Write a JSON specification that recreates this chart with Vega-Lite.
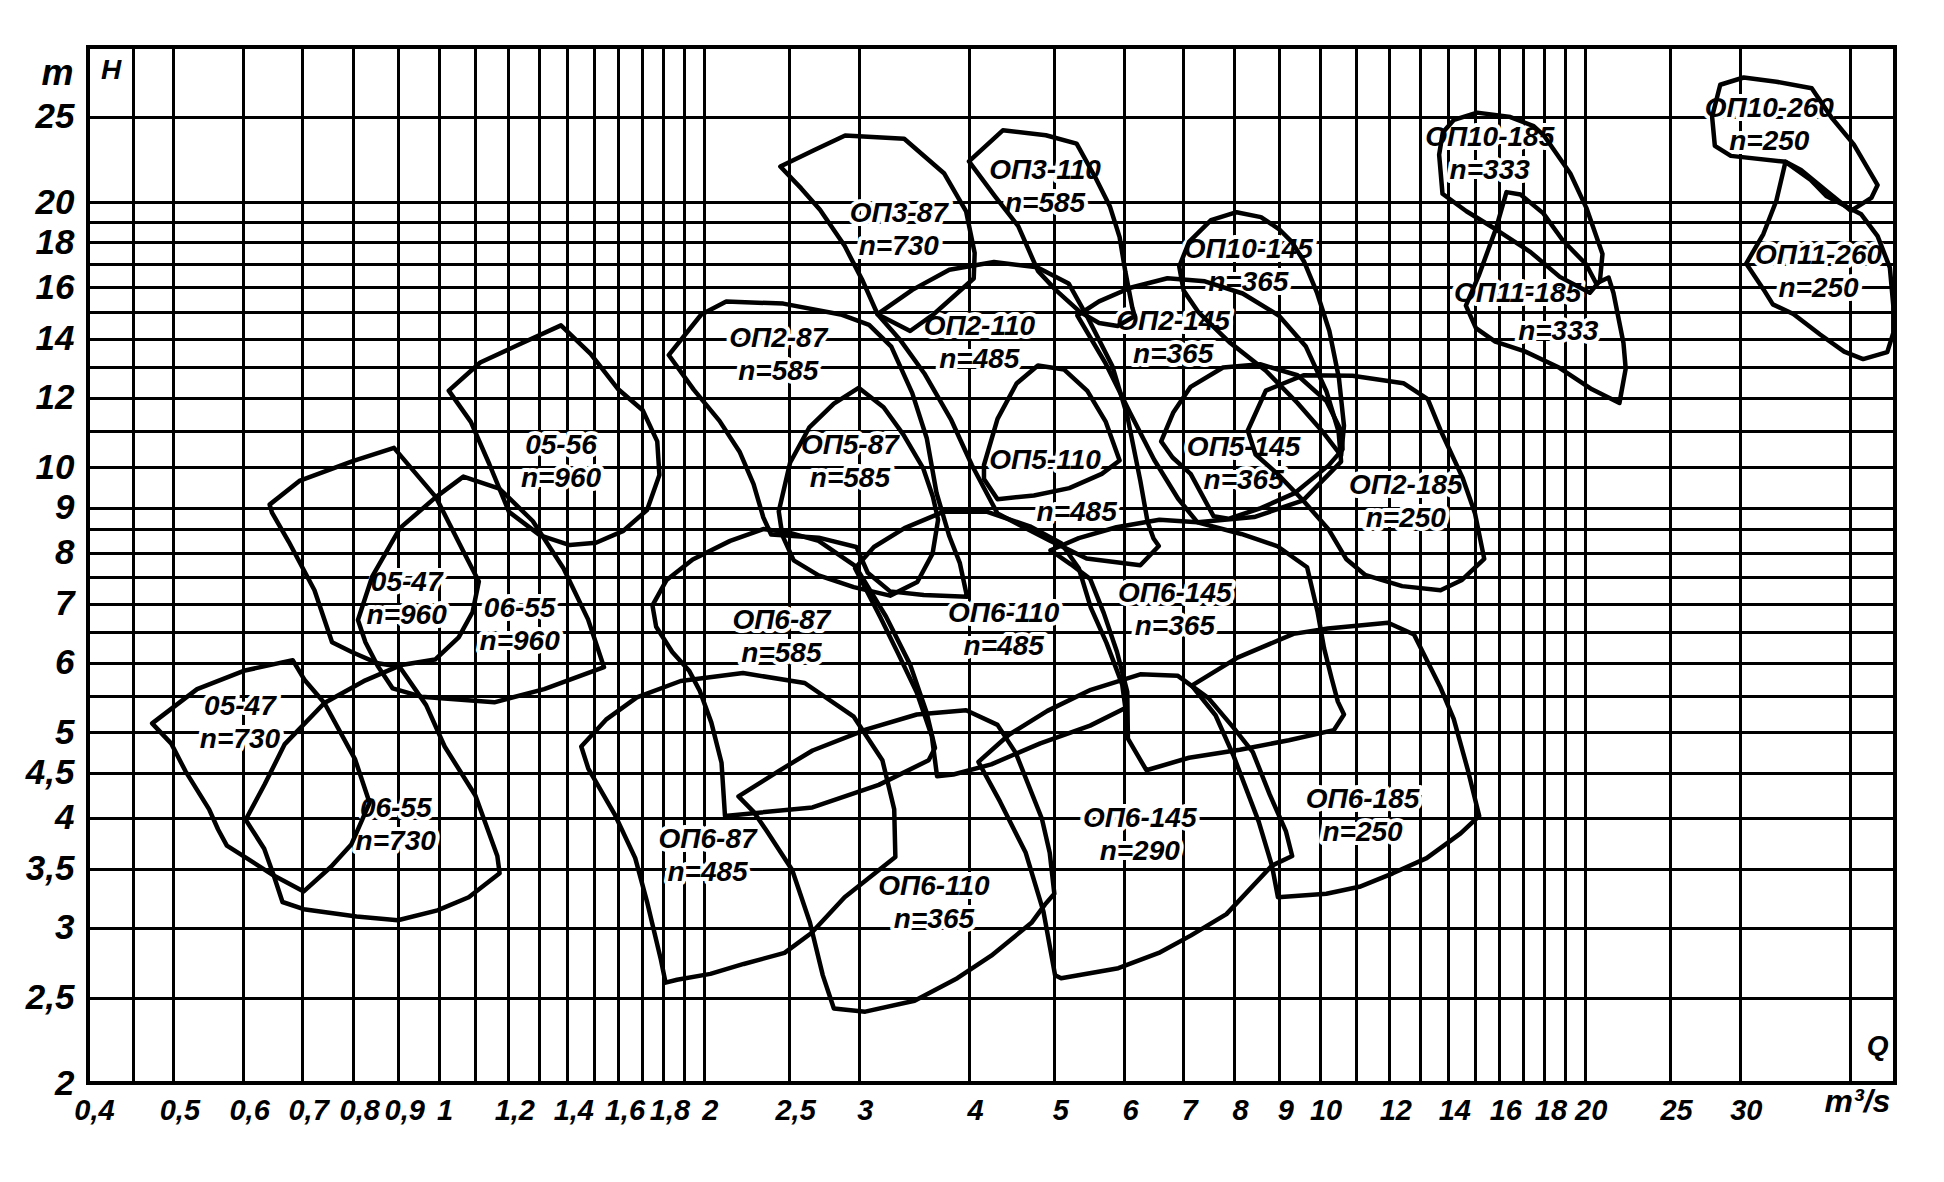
{
  "$schema": "https://vega.github.io/schema/vega-lite/v6.json",
  "width": 1807,
  "height": 1036,
  "autosize": {"type": "none"},
  "padding": {"left": 88, "top": 47, "right": 49, "bottom": 99},
  "background": "white",
  "config": {"view": {"stroke": "black", "strokeWidth": 4}},
  "datasets": {
    "regions": [
      {"r":"a","q":0.473,"h":5.12},{"r":"a","q":0.532,"h":5.60},{"r":"a","q":0.603,"h":5.88},{"r":"a","q":0.683,"h":6.04},{"r":"a","q":0.705,"h":5.73},{"r":"a","q":0.742,"h":5.40},{"r":"a","q":0.804,"h":4.66},{"r":"a","q":0.835,"h":4.16},{"r":"a","q":0.796,"h":3.73},{"r":"a","q":0.755,"h":3.52},{"r":"a","q":0.703,"h":3.30},{"r":"a","q":0.650,"h":3.44},{"r":"a","q":0.608,"h":3.59},{"r":"a","q":0.575,"h":3.72},{"r":"a","q":0.562,"h":3.88},{"r":"a","q":0.549,"h":4.09},{"r":"a","q":0.516,"h":4.52},{"r":"a","q":0.497,"h":4.86},
      {"r":"b","q":0.604,"h":3.98},{"r":"b","q":0.635,"h":4.37},{"r":"b","q":0.669,"h":4.85},{"r":"b","q":0.742,"h":5.40},{"r":"b","q":0.826,"h":5.73},{"r":"b","q":0.902,"h":5.95},{"r":"b","q":0.968,"h":5.37},{"r":"b","q":1.016,"h":4.82},{"r":"b","q":1.101,"h":4.24},{"r":"b","q":1.166,"h":3.62},{"r":"b","q":1.173,"h":3.46},{"r":"b","q":1.082,"h":3.25},{"r":"b","q":0.997,"h":3.14},{"r":"b","q":0.899,"h":3.06},{"r":"b","q":0.807,"h":3.09},{"r":"b","q":0.703,"h":3.15},{"r":"b","q":0.665,"h":3.21},{"r":"b","q":0.650,"h":3.44},{"r":"b","q":0.634,"h":3.69},
      {"r":"c","q":0.643,"h":9.07},{"r":"c","q":0.695,"h":9.65},{"r":"c","q":0.799,"h":10.16},{"r":"c","q":0.890,"h":10.52},{"r":"c","q":0.993,"h":9.25},{"r":"c","q":1.066,"h":8.04},{"r":"c","q":1.111,"h":7.42},{"r":"c","q":1.093,"h":6.85},{"r":"c","q":1.054,"h":6.41},{"r":"c","q":0.991,"h":6.05},{"r":"c","q":0.893,"h":5.95},{"r":"c","q":0.853,"h":5.99},{"r":"c","q":0.797,"h":6.17},{"r":"c","q":0.757,"h":6.33},{"r":"c","q":0.723,"h":7.25},{"r":"c","q":0.676,"h":8.23},{"r":"c","q":0.647,"h":8.88},
      {"r":"d","q":0.993,"h":9.25},{"r":"d","q":1.067,"h":9.76},{"r":"d","q":1.172,"h":9.46},{"r":"d","q":1.279,"h":8.69},{"r":"d","q":1.386,"h":7.68},{"r":"d","q":1.478,"h":6.72},{"r":"d","q":1.541,"h":5.93},{"r":"d","q":1.318,"h":5.60},{"r":"d","q":1.157,"h":5.41},{"r":"d","q":0.956,"h":5.49},{"r":"d","q":0.887,"h":5.61},{"r":"d","q":0.853,"h":5.95},{"r":"d","q":0.826,"h":6.33},{"r":"d","q":0.810,"h":6.71},{"r":"d","q":0.841,"h":7.52},{"r":"d","q":0.904,"h":8.53},
      {"r":"e","q":1.027,"h":12.22},{"r":"e","q":1.115,"h":13.15},{"r":"e","q":1.241,"h":13.82},{"r":"e","q":1.377,"h":14.49},{"r":"e","q":1.488,"h":13.45},{"r":"e","q":1.597,"h":12.28},{"r":"e","q":1.705,"h":11.61},{"r":"e","q":1.771,"h":10.70},{"r":"e","q":1.781,"h":9.80},{"r":"e","q":1.724,"h":8.94},{"r":"e","q":1.621,"h":8.47},{"r":"e","q":1.509,"h":8.21},{"r":"e","q":1.409,"h":8.16},{"r":"e","q":1.304,"h":8.37},{"r":"e","q":1.202,"h":8.90},{"r":"e","q":1.142,"h":10.08},{"r":"e","q":1.088,"h":11.26},
      {"r":"f","q":1.825,"h":13.41},{"r":"f","q":1.987,"h":14.91},{"r":"f","q":2.121,"h":15.42},{"r":"f","q":2.462,"h":15.34},{"r":"f","q":2.86,"h":14.91},{"r":"f","q":3.081,"h":14.51},{"r":"f","q":3.265,"h":13.71},{"r":"f","q":3.449,"h":12.14},{"r":"f","q":3.583,"h":10.78},{"r":"f","q":3.675,"h":9.35},{"r":"f","q":3.80,"h":8.35},{"r":"f","q":3.905,"h":7.79},{"r":"f","q":3.98,"h":7.13},{"r":"f","q":3.554,"h":7.16},{"r":"f","q":3.255,"h":7.23},{"r":"f","q":3.07,"h":7.59},{"r":"f","q":2.98,"h":8.12},{"r":"f","q":2.70,"h":8.32},{"r":"f","q":2.385,"h":8.39},{"r":"f","q":2.337,"h":8.77},{"r":"f","q":2.278,"h":9.57},{"r":"f","q":2.198,"h":10.40},{"r":"f","q":2.084,"h":11.29},{"r":"f","q":1.948,"h":12.25},
      {"r":"g","q":2.443,"h":21.95},{"r":"g","q":2.667,"h":22.91},{"r":"g","q":2.894,"h":23.8},{"r":"g","q":3.377,"h":23.6},{"r":"g","q":3.75,"h":21.55},{"r":"g","q":3.97,"h":19.52},{"r":"g","q":4.06,"h":17.51},{"r":"g","q":4.05,"h":16.38},{"r":"g","q":3.65,"h":14.93},{"r":"g","q":3.43,"h":14.28},{"r":"g","q":3.15,"h":14.92},{"r":"g","q":3.03,"h":16.28},{"r":"g","q":2.89,"h":17.84},{"r":"g","q":2.71,"h":19.6},{"r":"g","q":2.58,"h":20.73},
      {"r":"h","q":4.0,"h":22.25},{"r":"h","q":4.37,"h":24.13},{"r":"h","q":4.89,"h":23.82},{"r":"h","q":5.30,"h":23.3},{"r":"h","q":5.57,"h":21.3},{"r":"h","q":5.78,"h":19.79},{"r":"h","q":5.93,"h":18.25},{"r":"h","q":6.02,"h":16.67},{"r":"h","q":6.13,"h":15.18},{"r":"h","q":6.17,"h":14.85},{"r":"h","q":5.90,"h":14.47},{"r":"h","q":5.62,"h":14.58},{"r":"h","q":5.35,"h":15.0},{"r":"h","q":5.02,"h":15.89},{"r":"h","q":4.79,"h":16.71},{"r":"h","q":4.55,"h":18.78},{"r":"h","q":4.28,"h":20.32},
      {"r":"i","q":6.93,"h":16.9},{"r":"i","q":7.11,"h":18.03},{"r":"i","q":7.53,"h":19.08},{"r":"i","q":8.05,"h":19.48},{"r":"i","q":8.58,"h":19.23},{"r":"i","q":9.00,"h":18.63},{"r":"i","q":9.30,"h":18.03},{"r":"i","q":9.61,"h":17.1},{"r":"i","q":9.93,"h":15.8},{"r":"i","q":10.26,"h":14.28},{"r":"i","q":10.52,"h":12.62},{"r":"i","q":10.66,"h":11.15},{"r":"i","q":10.58,"h":10.31},{"r":"i","q":10.07,"h":10.99},{"r":"i","q":9.44,"h":11.83},{"r":"i","q":8.69,"h":12.87},{"r":"i","q":7.90,"h":13.87},{"r":"i","q":7.29,"h":14.99},{"r":"i","q":7.01,"h":15.87},
      {"r":"j","q":5.31,"h":14.87},{"r":"j","q":5.62,"h":15.43},{"r":"j","q":6.10,"h":15.99},{"r":"j","q":6.72,"h":16.39},{"r":"j","q":7.41,"h":16.26},{"r":"j","q":8.18,"h":15.75},{"r":"j","q":8.99,"h":14.87},{"r":"j","q":9.65,"h":13.71},{"r":"j","q":10.18,"h":12.2},{"r":"j","q":10.51,"h":10.98},{"r":"j","q":10.58,"h":10.15},{"r":"j","q":9.58,"h":9.17},{"r":"j","q":8.43,"h":8.78},{"r":"j","q":7.27,"h":8.66},{"r":"j","q":6.91,"h":9.21},{"r":"j","q":6.49,"h":10.2},{"r":"j","q":6.09,"h":11.55},{"r":"j","q":5.71,"h":13.15},
      {"r":"k","q":13.8,"h":23.99},{"r":"k","q":14.21,"h":24.8},{"r":"k","q":15.1,"h":25.27},{"r":"k","q":16.47,"h":24.98},{"r":"k","q":17.5,"h":24.4},{"r":"k","q":17.96,"h":23.83},{"r":"k","q":19.26,"h":21.55},{"r":"k","q":20.09,"h":19.69},{"r":"k","q":20.95,"h":17.46},{"r":"k","q":20.81,"h":16.28},{"r":"k","q":20.27,"h":15.78},{"r":"k","q":18.74,"h":16.45},{"r":"k","q":17.36,"h":17.55},{"r":"k","q":15.85,"h":18.63},{"r":"k","q":14.68,"h":19.53},{"r":"k","q":13.79,"h":20.44},{"r":"k","q":13.67,"h":22.64},
      {"r":"l","q":14.66,"h":15.26},{"r":"l","q":15.16,"h":16.5},{"r":"l","q":15.85,"h":18.63},{"r":"l","q":16.3,"h":20.53},{"r":"l","q":16.91,"h":20.4},{"r":"l","q":17.95,"h":19.42},{"r":"l","q":18.88,"h":18.1},{"r":"l","q":20.07,"h":17.0},{"r":"l","q":20.61,"h":16.17},{"r":"l","q":21.29,"h":16.42},{"r":"l","q":21.56,"h":15.77},{"r":"l","q":22.13,"h":13.84},{"r":"l","q":22.26,"h":12.94},{"r":"l","q":21.9,"h":11.83},{"r":"l","q":20.38,"h":12.26},{"r":"l","q":18.72,"h":12.97},{"r":"l","q":17.1,"h":13.54},{"r":"l","q":15.83,"h":13.89},{"r":"l","q":15.05,"h":14.39},
      {"r":"m","q":28.5,"h":27.18},{"r":"m","q":30.3,"h":27.7},{"r":"m","q":33.0,"h":27.4},{"r":"m","q":36.2,"h":26.93},{"r":"m","q":38.1,"h":24.97},{"r":"m","q":40.4,"h":23.26},{"r":"m","q":43.0,"h":20.91},{"r":"m","q":42.3,"h":20.22},{"r":"m","q":40.1,"h":19.55},{"r":"m","q":37.6,"h":20.6},{"r":"m","q":35.2,"h":21.75},{"r":"m","q":33.8,"h":22.22},{"r":"m","q":29.3,"h":22.57},{"r":"m","q":28.1,"h":23.17},{"r":"m","q":27.9,"h":25.0},
      {"r":"n","q":33.8,"h":22.22},{"r":"n","q":33.0,"h":20.07},{"r":"n","q":31.9,"h":18.4},{"r":"n","q":30.5,"h":17.03},{"r":"n","q":31.9,"h":15.93},{"r":"n","q":32.7,"h":15.31},{"r":"n","q":34.5,"h":14.93},{"r":"n","q":37.0,"h":14.15},{"r":"n","q":39.4,"h":13.53},{"r":"n","q":41.4,"h":13.27},{"r":"n","q":44.1,"h":13.51},{"r":"n","q":44.8,"h":14.21},{"r":"n","q":44.8,"h":15.26},{"r":"n","q":44.4,"h":16.85},{"r":"n","q":43.0,"h":18.3},{"r":"n","q":41.2,"h":19.37},{"r":"n","q":37.6,"h":20.32},{"r":"n","q":36.1,"h":21.2},
      {"r":"o","q":3.15,"h":14.92},{"r":"o","q":3.45,"h":15.9},{"r":"o","q":3.80,"h":16.76},{"r":"o","q":4.27,"h":17.1},{"r":"o","q":4.78,"h":16.87},{"r":"o","q":5.19,"h":16.17},{"r":"o","q":5.45,"h":14.82},{"r":"o","q":5.82,"h":13.02},{"r":"o","q":6.05,"h":11.44},{"r":"o","q":6.26,"h":9.65},{"r":"o","q":6.38,"h":8.67},{"r":"o","q":6.48,"h":8.30},{"r":"o","q":6.57,"h":8.14},{"r":"o","q":6.26,"h":7.74},{"r":"o","q":5.44,"h":7.88},{"r":"o","q":4.95,"h":8.25},{"r":"o","q":4.31,"h":8.86},{"r":"o","q":4.03,"h":10.06},{"r":"o","q":3.82,"h":11.31},{"r":"o","q":3.56,"h":12.78},{"r":"o","q":3.34,"h":13.96},
      {"r":"p","q":2.433,"h":8.91},{"r":"p","q":2.506,"h":10.12},{"r":"p","q":2.634,"h":11.09},{"r":"p","q":2.81,"h":11.81},{"r":"p","q":2.998,"h":12.31},{"r":"p","q":3.20,"h":11.70},{"r":"p","q":3.37,"h":10.89},{"r":"p","q":3.548,"h":9.98},{"r":"p","q":3.64,"h":9.26},{"r":"p","q":3.69,"h":8.72},{"r":"p","q":3.637,"h":7.98},{"r":"p","q":3.495,"h":7.41},{"r":"p","q":3.255,"h":7.15},{"r":"p","q":2.96,"h":7.31},{"r":"p","q":2.70,"h":7.54},{"r":"p","q":2.53,"h":7.84},{"r":"p","q":2.456,"h":8.37},
      {"r":"q","q":4.16,"h":10.06},{"r":"q","q":4.31,"h":11.35},{"r":"q","q":4.53,"h":12.45},{"r":"q","q":4.79,"h":13.05},{"r":"q","q":5.13,"h":12.91},{"r":"q","q":5.45,"h":12.21},{"r":"q","q":5.72,"h":11.26},{"r":"q","q":5.93,"h":10.18},{"r":"q","q":5.66,"h":9.83},{"r":"q","q":5.20,"h":9.47},{"r":"q","q":4.74,"h":9.29},{"r":"q","q":4.31,"h":9.20},{"r":"q","q":4.16,"h":9.70},
      {"r":"s","q":6.61,"h":10.7},{"r":"s","q":6.82,"h":11.53},{"r":"s","q":7.14,"h":12.34},{"r":"s","q":7.77,"h":12.98},{"r":"s","q":8.56,"h":13.09},{"r":"s","q":9.44,"h":12.72},{"r":"s","q":10.18,"h":11.89},{"r":"s","q":10.59,"h":10.98},{"r":"s","q":10.62,"h":10.48},{"r":"s","q":10.24,"h":10.05},{"r":"s","q":9.36,"h":9.34},{"r":"s","q":8.58,"h":8.99},{"r":"s","q":7.88,"h":8.74},{"r":"s","q":7.58,"h":8.8},{"r":"s","q":7.14,"h":9.83},{"r":"s","q":6.81,"h":10.26},
      {"r":"t","q":8.29,"h":11.01},{"r":"t","q":8.69,"h":12.22},{"r":"t","q":9.59,"h":12.72},{"r":"t","q":10.9,"h":12.7},{"r":"t","q":12.45,"h":12.46},{"r":"t","q":13.27,"h":11.95},{"r":"t","q":13.74,"h":10.98},{"r":"t","q":14.54,"h":9.72},{"r":"t","q":15.01,"h":8.87},{"r":"t","q":15.38,"h":7.87},{"r":"t","q":14.51,"h":7.45},{"r":"t","q":13.72,"h":7.25},{"r":"t","q":12.41,"h":7.33},{"r":"t","q":11.26,"h":7.55},{"r":"t","q":10.72,"h":7.87},{"r":"t","q":10.24,"h":8.5},{"r":"t","q":9.58,"h":9.17},{"r":"t","q":8.96,"h":9.83},{"r":"t","q":8.46,"h":10.34},
      {"r":"u","q":1.749,"h":6.97},{"r":"u","q":1.815,"h":7.45},{"r":"u","q":1.943,"h":7.86},{"r":"u","q":2.143,"h":8.25},{"r":"u","q":2.336,"h":8.51},{"r":"u","q":2.50,"h":8.43},{"r":"u","q":2.70,"h":8.25},{"r":"u","q":2.97,"h":7.73},{"r":"u","q":3.22,"h":6.77},{"r":"u","q":3.43,"h":5.97},{"r":"u","q":3.58,"h":5.27},{"r":"u","q":3.66,"h":4.8},{"r":"u","q":3.60,"h":4.65},{"r":"u","q":3.16,"h":4.36},{"r":"u","q":2.657,"h":4.11},{"r":"u","q":2.114,"h":4.02},{"r":"u","q":2.095,"h":4.62},{"r":"u","q":2.04,"h":5.13},{"r":"u","q":1.98,"h":5.57},{"r":"u","q":1.926,"h":5.87},{"r":"u","q":1.842,"h":6.17},{"r":"u","q":1.766,"h":6.59},
      {"r":"v","q":1.452,"h":4.82},{"r":"v","q":1.549,"h":5.17},{"r":"v","q":1.679,"h":5.48},{"r":"v","q":1.883,"h":5.72},{"r":"v","q":2.216,"h":5.84},{"r":"v","q":2.604,"h":5.69},{"r":"v","q":2.96,"h":5.21},{"r":"v","q":3.19,"h":4.65},{"r":"v","q":3.29,"h":4.09},{"r":"v","q":3.30,"h":3.61},{"r":"v","q":2.89,"h":3.25},{"r":"v","q":2.65,"h":2.96},{"r":"v","q":2.47,"h":2.81},{"r":"v","q":2.22,"h":2.73},{"r":"v","q":2.035,"h":2.66},{"r":"v","q":1.865,"h":2.62},{"r":"v","q":1.81,"h":2.60},{"r":"v","q":1.788,"h":2.76},{"r":"v","q":1.726,"h":3.2},{"r":"v","q":1.672,"h":3.6},{"r":"v","q":1.584,"h":4.04},{"r":"v","q":1.479,"h":4.55},
      {"r":"w","q":2.97,"h":7.68},{"r":"w","q":3.12,"h":8.12},{"r":"w","q":3.38,"h":8.53},{"r":"w","q":3.74,"h":8.9},{"r":"w","q":4.18,"h":8.91},{"r":"w","q":4.69,"h":8.57},{"r":"w","q":5.09,"h":8.2},{"r":"w","q":5.33,"h":7.68},{"r":"w","q":5.50,"h":6.93},{"r":"w","q":5.73,"h":6.32},{"r":"w","q":5.97,"h":5.67},{"r":"w","q":6.02,"h":5.33},{"r":"w","q":5.49,"h":5.09},{"r":"w","q":4.82,"h":4.86},{"r":"w","q":4.24,"h":4.6},{"r":"w","q":3.84,"h":4.48},{"r":"w","q":3.68,"h":4.46},{"r":"w","q":3.63,"h":4.95},{"r":"w","q":3.49,"h":5.55},{"r":"w","q":3.32,"h":6.16},{"r":"w","q":3.17,"h":6.77},
      {"r":"x","q":2.19,"h":4.23},{"r":"x","q":2.432,"h":4.52},{"r":"x","q":2.658,"h":4.77},{"r":"x","q":3.06,"h":5.04},{"r":"x","q":3.49,"h":5.24},{"r":"x","q":3.97,"h":5.3},{"r":"x","q":4.31,"h":5.1},{"r":"x","q":4.52,"h":4.74},{"r":"x","q":4.84,"h":3.99},{"r":"x","q":4.94,"h":3.65},{"r":"x","q":5.0,"h":3.28},{"r":"x","q":4.88,"h":3.19},{"r":"x","q":4.71,"h":3.04},{"r":"x","q":4.24,"h":2.79},{"r":"x","q":3.88,"h":2.63},{"r":"x","q":3.47,"h":2.48},{"r":"x","q":3.05,"h":2.41},{"r":"x","q":2.81,"h":2.43},{"r":"x","q":2.73,"h":2.65},{"r":"x","q":2.64,"h":3.04},{"r":"x","q":2.52,"h":3.49},{"r":"x","q":2.36,"h":3.86},{"r":"x","q":2.28,"h":4.06},
      {"r":"y","q":4.95,"h":8.05},{"r":"y","q":5.33,"h":8.31},{"r":"y","q":5.88,"h":8.55},{"r":"y","q":6.58,"h":8.72},{"r":"y","q":7.27,"h":8.66},{"r":"y","q":8.15,"h":8.4},{"r":"y","q":8.95,"h":8.14},{"r":"y","q":9.68,"h":7.7},{"r":"y","q":9.95,"h":6.85},{"r":"y","q":10.12,"h":6.23},{"r":"y","q":10.32,"h":5.76},{"r":"y","q":10.49,"h":5.42},{"r":"y","q":10.66,"h":5.24},{"r":"y","q":10.38,"h":5.03},{"r":"y","q":9.23,"h":4.9},{"r":"y","q":8.12,"h":4.78},{"r":"y","q":7.11,"h":4.68},{"r":"y","q":6.36,"h":4.53},{"r":"y","q":6.06,"h":4.92},{"r":"y","q":6.05,"h":5.56},{"r":"y","q":5.89,"h":6.17},{"r":"y","q":5.69,"h":6.83},{"r":"y","q":5.49,"h":7.47},{"r":"y","q":5.22,"h":7.76},
      {"r":"z","q":4.1,"h":4.63},{"r":"z","q":4.44,"h":4.97},{"r":"z","q":4.91,"h":5.29},{"r":"z","q":5.50,"h":5.59},{"r":"z","q":6.26,"h":5.82},{"r":"z","q":6.9,"h":5.8},{"r":"z","q":7.48,"h":5.47},{"r":"z","q":7.99,"h":5.06},{"r":"z","q":8.40,"h":4.75},{"r":"z","q":8.78,"h":4.25},{"r":"z","q":9.16,"h":3.86},{"r":"z","q":9.31,"h":3.62},{"r":"z","q":8.83,"h":3.53},{"r":"z","q":7.84,"h":3.11},{"r":"z","q":7.14,"h":2.94},{"r":"z","q":6.57,"h":2.81},{"r":"z","q":5.91,"h":2.70},{"r":"z","q":5.09,"h":2.63},{"r":"z","q":5.01,"h":2.65},{"r":"z","q":4.86,"h":3.13},{"r":"z","q":4.64,"h":3.65},{"r":"z","q":4.34,"h":4.17},
      {"r":"zz","q":7.16,"h":5.65},{"r":"zz","q":8.07,"h":6.08},{"r":"zz","q":9.34,"h":6.47},{"r":"zz","q":10.22,"h":6.56},{"r":"zz","q":11.96,"h":6.66},{"r":"zz","q":12.8,"h":6.46},{"r":"zz","q":13.7,"h":5.64},{"r":"zz","q":14.2,"h":5.18},{"r":"zz","q":14.72,"h":4.55},{"r":"zz","q":15.18,"h":4.02},{"r":"zz","q":14.46,"h":3.84},{"r":"zz","q":13.23,"h":3.6},{"r":"zz","q":12.11,"h":3.46},{"r":"zz","q":11.1,"h":3.34},{"r":"zz","q":10.18,"h":3.28},{"r":"zz","q":8.97,"h":3.25},{"r":"zz","q":8.83,"h":3.53},{"r":"zz","q":8.53,"h":3.96},{"r":"zz","q":7.99,"h":4.7},{"r":"zz","q":7.62,"h":5.23}
    ],
    "labels": [
      {"t":"ОП3-87\nn=730","q":3.33,"h":19.38},
      {"t":"ОП3-110\nn=585","q":4.88,"h":21.7},
      {"t":"ОП10-145\nn=365","q":8.3,"h":17.64},
      {"t":"ОП10-185\nn=333","q":15.6,"h":23.65},
      {"t":"ОП11-185","q":16.78,"h":15.75},{"t":"n=333","q":18.66,"h":14.25},
      {"t":"ОП10-260\nn=250","q":32.4,"h":25.5},
      {"t":"ОП11-260\nn=250","q":36.85,"h":17.35},
      {"t":"ОП2-87\nn=585","q":2.43,"h":13.97},
      {"t":"ОП2-110\nn=485","q":4.11,"h":14.43},
      {"t":"ОП2-145\nn=365","q":6.82,"h":14.63},
      {"t":"05-56\nn=960","q":1.377,"h":10.56},
      {"t":"ОП5-87\nn=585","q":2.93,"h":10.57},
      {"t":"ОП5-110","q":4.88,"h":10.17},{"t":"n=485","q":5.3,"h":8.87},
      {"t":"ОП5-145\nn=365","q":8.2,"h":10.52},
      {"t":"ОП2-185\nn=250","q":12.53,"h":9.53},
      {"t":"05-47\nn=960","q":0.92,"h":7.39},
      {"t":"06-55\nn=960","q":1.236,"h":6.9},
      {"t":"ОП6-87\nn=585","q":2.45,"h":6.69},
      {"t":"ОП6-110\nn=485","q":4.38,"h":6.81},
      {"t":"ОП6-145\nn=365","q":6.85,"h":7.18},
      {"t":"05-47\nn=730","q":0.595,"h":5.34},
      {"t":"06-55\nn=730","q":0.894,"h":4.09},
      {"t":"ОП6-87\nn=485","q":2.02,"h":3.77},
      {"t":"ОП6-110\nn=365","q":3.65,"h":3.34},
      {"t":"ОП6-145\nn=290","q":6.25,"h":3.99},
      {"t":"ОП6-185\nn=250","q":11.19,"h":4.19},
      {"t":"H","q":0.425,"h":28.2},{"t":"Q","q":43.0,"h":2.2}
    ]
  },
  "encoding": {
    "x": {
      "field": "q", "type": "quantitative",
      "scale": {"type": "log", "domain": [0.4, 45], "nice": false},
      "axis": {
        "values": [0.4,0.45,0.5,0.6,0.7,0.8,0.9,1,1.1,1.2,1.3,1.4,1.5,1.6,1.7,1.8,1.9,2,2.5,3,4,5,6,7,8,9,10,11,12,13,14,15,16,17,18,19,20,25,30,40],
        "format": "~g",
        "labelExpr": "indexof([0.4,0.5,0.6,0.7,0.8,0.9,1,1.2,1.4,1.6,1.8,2,2.5,3,4,5,6,7,8,9,10,12,14,16,18,20,25,30], datum.value) >= 0 ? replace(datum.label, '.', ',') : ''",
        "grid": true, "gridColor": "black", "gridWidth": 3, "gridOpacity": 1,
        "domain": false, "ticks": false,
        "labelFont": "Liberation Sans", "labelFontSize": 29, "labelFontStyle": "italic", "labelFontWeight": "bold", "labelColor": "black",
        "labelPadding": 13, "labelOffset": 6, "labelOverlap": false, "labelBound": false, "labelFlush": false,
        "title": "m³/s", "titleFont": "Liberation Sans", "titleFontSize": 32, "titleFontStyle": "italic", "titleFontWeight": "bold", "titleColor": "black",
        "titleX": 1769, "titleY": 18, "titleAlign": "center", "titleBaseline": "middle"
      }
    },
    "y": {
      "field": "h", "type": "quantitative",
      "scale": {"type": "log", "domain": [2, 30], "nice": false},
      "axis": {
        "values": [2,2.5,3,3.5,4,4.5,5,5.5,6,6.5,7,7.5,8,8.5,9,10,11,12,13,14,15,16,17,18,19,20,25,30],
        "format": "~g",
        "labelExpr": "indexof([2,2.5,3,3.5,4,4.5,5,6,7,8,9,10,12,14,16,18,20,25], datum.value) >= 0 ? replace(datum.label, '.', ',') : ''",
        "grid": true, "gridColor": "black", "gridWidth": 3, "gridOpacity": 1,
        "domain": false, "ticks": false,
        "labelFont": "Liberation Sans", "labelFontSize": 35, "labelFontStyle": "italic", "labelFontWeight": "bold", "labelColor": "black",
        "labelPadding": 14, "labelOverlap": false, "labelBound": false, "labelFlush": false,
        "title": "m", "titleFont": "Liberation Sans", "titleFontSize": 36, "titleFontStyle": "italic", "titleFontWeight": "bold", "titleColor": "black",
        "titleAngle": 0, "titleX": -31, "titleY": 26, "titleAlign": "center", "titleBaseline": "middle"
      }
    }
  },
  "layer": [
    {
      "data": {"name": "labels"},
      "mark": {"type": "text", "font": "Liberation Sans", "fontSize": 28, "lineBreak": "\n", "lineHeight": 33, "fontStyle": "italic", "fontWeight": "bold", "fill": "white", "stroke": "white", "strokeWidth": 8, "strokeJoin": "round"},
      "encoding": {"text": {"field": "t"}}
    },
    {
      "data": {"name": "regions"},
      "mark": {"type": "line", "interpolate": "linear-closed", "color": "black", "strokeWidth": 4.5, "strokeJoin": "round", "strokeCap": "round", "clip": true},
      "encoding": {"detail": {"field": "r"}, "order": {"value": null}}
    },
    {
      "data": {"name": "labels"},
      "mark": {"type": "text", "font": "Liberation Sans", "fontSize": 28, "lineBreak": "\n", "lineHeight": 33, "fontStyle": "italic", "fontWeight": "bold", "color": "black"},
      "encoding": {"text": {"field": "t"}}
    }
  ]
}
